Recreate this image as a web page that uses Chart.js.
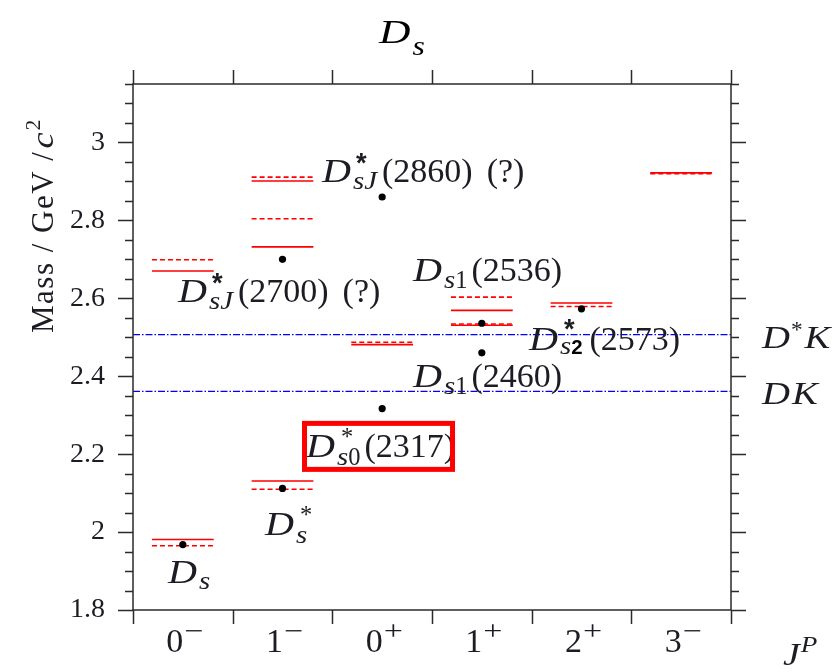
<!DOCTYPE html>
<html>
<head>
<meta charset="utf-8">
<script src="https://cdn.jsdelivr.net/npm/chart.js@4.4.1/dist/chart.umd.min.js"></script>
<style>
  html, body { margin: 0; padding: 0; background: #fff; }
  #wrap { width: 839px; height: 672px; position: relative; }
</style>
</head>
<body>
<div id="wrap"><canvas id="c" width="839" height="672"></canvas></div>
<script>
// J^P columns of the Ds spectrum
const spinParity = ['0−', '1−', '0+', '1+', '2+', '3−'];
// model predictions (GeV/c^2), one list per J^P column
const modelSolid  = [[1.981, 2.670], [2.131, 2.732, 2.901], [2.481], [2.531, 2.569], [2.588], [2.922]];
const modelDashed = [[1.965, 2.699], [2.110, 2.804, 2.911], [2.487], [2.534, 2.603], [2.579], [2.920]];
// observed states: column and mass
const observedJP   = ['0−', '1−', '1−', '0+', '0+', '1+', '1+', '2+'];
const observedMass = [1.968, 2.112, 2.700, 2.317, 2.860, 2.460, 2.536, 2.573];
// open-charm thresholds
const thresholdName = ['D*K', 'DK'];
const thresholdMass = [2.507, 2.361];
// labelled mass ticks
const massTicks = [1.8, 2.0, 2.2, 2.4, 2.6, 2.8, 3.0];

const SERIF = '"Liberation Serif", "Times New Roman", serif';
const SANS = '"Liberation Sans", Arial, sans-serif';
const INK = '#1c1c24';
const AXIS = '#2a2a2a';
const HALF = 0.31;      // half length of a level marker, in column units
const ITALIC_SX = 1.18; // widen italic letters a little
const LABEL_SIZE = 34;

function levelSegments(levels) {
  const pts = [];
  levels.forEach((list, i) => {
    list.forEach(m => {
      pts.push({ x: i + 0.5 - HALF, y: m });
      pts.push({ x: i + 0.5 + HALF, y: m });
      pts.push({ x: i + 0.5, y: null });
    });
  });
  return pts;
}

const observedPoints = observedMass.map((m, k) => ({ x: spinParity.indexOf(observedJP[k]) + 0.5, y: m }));
const thresholdLines = thresholdMass.flatMap(m => [{ x: 0, y: m }, { x: spinParity.length, y: m }, { x: 3, y: null }]);

// rich-text helper: runs of text with italic / sub / superscript
function drawRuns(ctx, x, y, runs, size, color) {
  let cx = x;
  runs.forEach(r => {
    const s = size * (r.s || 1);
    const sx = r.sx || (r.i ? ITALIC_SX : 1);
    ctx.font = (r.b ? 'bold ' : '') + (r.i ? 'italic ' : '') + s + 'px ' + (r.f || SERIF);
    ctx.fillStyle = r.c || color;
    ctx.textAlign = 'left';
    ctx.textBaseline = 'alphabetic';
    const px = cx + (r.dx || 0);
    ctx.save();
    ctx.translate(px, y + (r.dy || 0) * size);
    ctx.scale(sx, 1);
    ctx.fillText(r.t, 0, 0);
    ctx.restore();
    const w = ctx.measureText(r.t).width * sx;
    if (r.adv === 0) return;
    cx = px + w + (r.pad || 0);
  });
  return cx - x;
}

const Dit = { t: 'D', i: true, pad: 2 };
const starSerif = { t: '*', s: 0.72, dy: -0.36, dx: 4, adv: 0 };
const starBold = { t: '*', f: SANS, b: true, s: 0.8, dy: -0.3, dx: 3, adv: 0 };
const sub = (t, dy, pad) => ({ t, i: true, s: 0.72, dy, pad: pad || 0 });
const subUp = (t, dy) => ({ t, s: 0.72, dy, pad: 4 });
const query = { t: '(?)', dx: 14 };

const stateLabels = [
  { x: 0.351, y: 1.869, runs: [Dit, sub('s', 0.17)] },
  { x: 1.324, y: 1.993, runs: [Dit, starSerif, sub('s', 0.24)] },
  { x: 0.451, y: 2.591, runs: [Dit, starBold, sub('sJ', 0.22, 5), { t: '(2700)' }, query] },
  { x: 1.896, y: 2.899, runs: [Dit, starBold, sub('sJ', 0.22, 5), { t: '(2860)' }, query] },
  { x: 2.809, y: 2.644, runs: [Dit, sub('s', 0.2), subUp('1', 0.2), { t: '(2536)' }] },
  { x: 3.973, y: 2.467, runs: [Dit, { t: '*', f: SANS, b: true, s: 0.8, dy: -0.36, dx: 4, adv: 0 },
                               sub('s', 0.12), { t: '2', f: SANS, b: true, s: 0.6, dy: 0.12, c: '#000' },
                               { t: '(2573)', dx: 7 }] },
  { x: 2.809, y: 2.372, runs: [Dit, sub('s', 0.2), subUp('1', 0.2), { t: '(2460)' }] },
  { x: 1.736, y: 2.193, boxed: true, runs: [Dit, starSerif, sub('s', 0.24), subUp('0', 0.24), { t: '(2317)' }] }
];

const decorations = {
  id: 'decorations',
  afterDatasetsDraw(chart) {
    const ctx = chart.ctx;
    const xs = chart.scales.x, ys = chart.scales.y;
    const a = chart.chartArea;
    ctx.save();

    // state labels
    stateLabels.forEach(L => {
      const px = xs.getPixelForValue(L.x), py = ys.getPixelForValue(L.y);
      drawRuns(ctx, px, py, L.runs, LABEL_SIZE, INK);
      if (L.boxed) {
        ctx.strokeStyle = '#ff0000';
        ctx.lineWidth = 5;
        ctx.strokeRect(px - 1.5, py - 33.5, 148, 46);
      }
    });

    // frame
    ctx.strokeStyle = AXIS;
    ctx.lineWidth = 1.5;
    ctx.strokeRect(a.left, a.top, a.right - a.left, a.bottom - a.top);

    // mass ticks on both vertical axes (minor every 0.05, major every 0.2)
    ctx.beginPath();
    for (let k = 0; 1.8 + k * 0.05 <= 3.151; k++) {
      const y = Math.round(ys.getPixelForValue(1.8 + k * 0.05)) + 0.5;
      const len = k % 4 === 0 ? 15 : 8;
      ctx.moveTo(a.left - len, y); ctx.lineTo(a.left, y);
      ctx.moveTo(a.right, y); ctx.lineTo(a.right + len, y);
    }
    // column boundaries on top and bottom axes
    for (let k = 0; k <= spinParity.length; k++) {
      const x = Math.round(xs.getPixelForValue(k)) + 0.5;
      ctx.moveTo(x, a.top - 14); ctx.lineTo(x, a.top);
      ctx.moveTo(x, a.bottom); ctx.lineTo(x, a.bottom + 14);
    }
    ctx.stroke();

    // J^P column labels
    spinParity.forEach((lab, i) => {
      const cx = xs.getPixelForValue(i + 0.5);
      const runs = [{ t: lab[0] }, { t: lab[1], s: 0.8, dy: -0.34, dx: 1, sx: 1.25 }];
      ctx.font = '34px ' + SERIF;
      const w0 = ctx.measureText(lab[0]).width;
      ctx.font = '27px ' + SERIF;
      const w1 = ctx.measureText(lab[1]).width * 1.25;
      drawRuns(ctx, cx - (w0 + w1 + 1) / 2 + 2, a.bottom + 42, runs, 34, INK);
    });

    // axis titles
    drawRuns(ctx, a.right + 52, a.bottom + 55, [{ t: 'J', i: true }, { t: 'P', i: true, s: 0.72, dy: -0.42, dx: 1 }], 32, INK);
    ctx.save();
    ctx.translate(53, a.top + 249);
    ctx.rotate(-Math.PI / 2);
    if ('letterSpacing' in ctx) ctx.letterSpacing = '1.5px';
    drawRuns(ctx, 0, 0, [{ t: 'Mass / GeV /' }, { t: 'c', i: true, dx: 2 }, { t: '2', s: 0.7, dy: -0.42 }], 31, INK);
    ctx.restore();

    // threshold names
    thresholdName.forEach((n, k) => {
      const y = ys.getPixelForValue(thresholdMass[k]) + 13;
      const runs = n === 'D*K'
        ? [{ t: 'D', i: true, sx: 1.25 }, { t: '*', s: 0.75, dy: -0.33, dx: 1, pad: 2 }, { t: 'K', i: true, sx: 1.25 }]
        : [{ t: 'D', i: true, sx: 1.25, pad: 2 }, { t: 'K', i: true, sx: 1.25 }];
      drawRuns(ctx, a.right + 31, y, runs, 31, INK);
    });

    // title
    drawRuns(ctx, a.left + 246, 43, [{ t: 'D', i: true, sx: 1.32, pad: 2 }, { t: 's', i: true, s: 0.8, dy: 0.36, sx: 1.2 }], 33, '#000');
    ctx.restore();
  }
};

new Chart(document.getElementById('c'), {
  type: 'scatter',
  data: {
    datasets: [
      { label: 'observed', data: observedPoints, pointRadius: 3.6, pointHoverRadius: 3.6,
        pointBackgroundColor: '#000', pointBorderColor: '#000', pointBorderWidth: 0, showLine: false, order: 0 },
      { label: 'model (solid)', data: levelSegments(modelSolid), showLine: true, spanGaps: false,
        borderColor: '#ff0000', borderWidth: 1.6, pointRadius: 0, order: 1 },
      { label: 'model (dashed)', data: levelSegments(modelDashed), showLine: true, spanGaps: false,
        borderColor: '#ff0000', borderWidth: 1.6, borderDash: [5, 3], pointRadius: 0, order: 2 },
      { label: 'thresholds', data: thresholdLines, showLine: true, spanGaps: false,
        borderColor: '#0000ff', borderWidth: 1.2, borderDash: [7, 2, 1.5, 2], pointRadius: 0, order: 3 }
    ]
  },
  options: {
    responsive: false,
    animation: false,
    devicePixelRatio: 1,
    layout: { padding: { top: 84, right: 108, left: 0, bottom: 0 } },
    plugins: { legend: { display: false }, tooltip: { enabled: false }, title: { display: false } },
    events: [],
    scales: {
      x: {
        type: 'linear', min: 0, max: spinParity.length,
        grid: { display: false }, border: { display: false },
        ticks: { display: false },
        afterFit(s) { s.height = 62; }
      },
      y: {
        type: 'linear', min: 1.8, max: 3.15,
        grid: { display: false }, border: { display: false },
        afterBuildTicks(s) { s.ticks = massTicks.map(v => ({ value: v })); },
        ticks: {
          padding: 20,
          color: INK,
          font: { family: SERIF, size: 28 },
          callback: v => String(Math.round(v * 10) / 10)
        },
        afterFit(s) { s.width = 133; }
      }
    }
  },
  plugins: [decorations]
});
</script>
</body>
</html>
